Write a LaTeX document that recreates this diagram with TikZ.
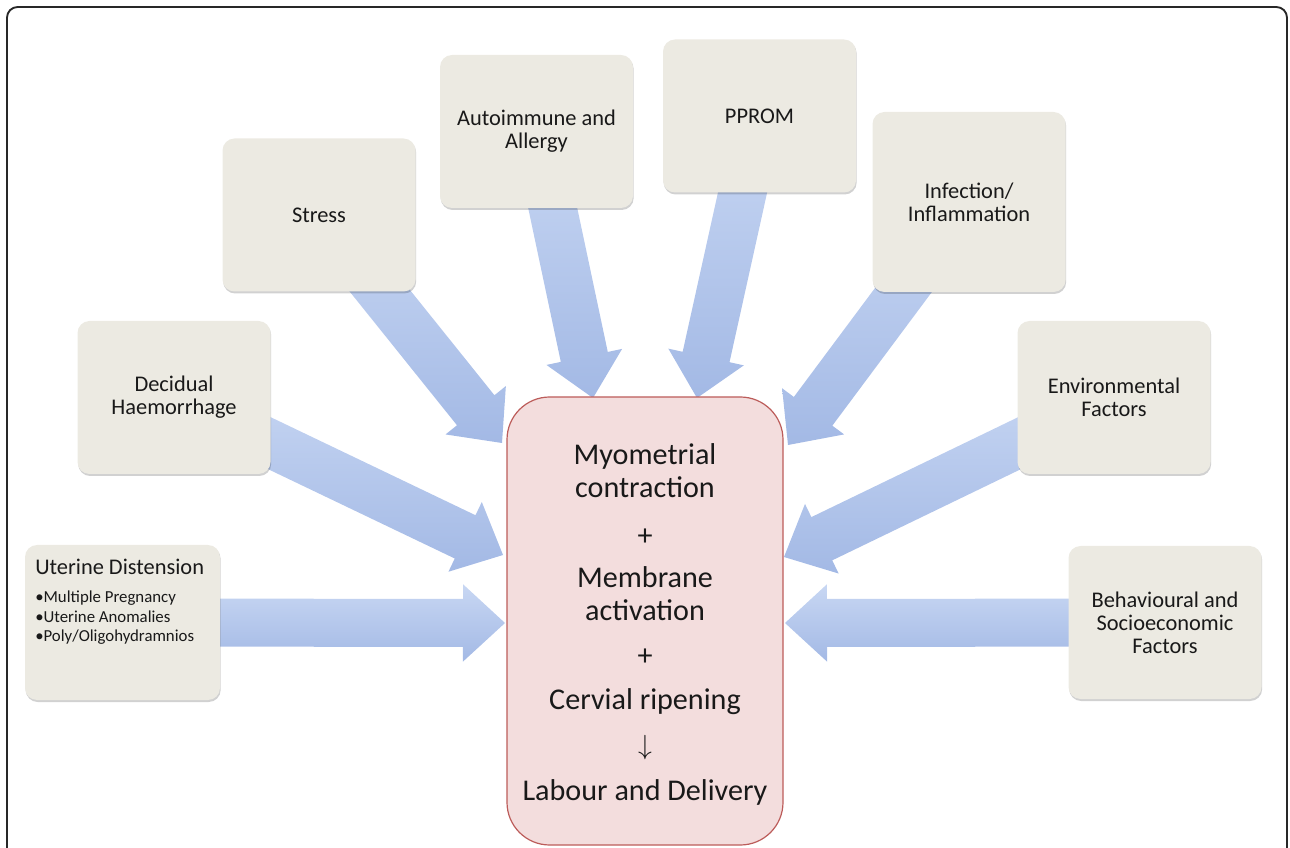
\documentclass[tikz,border=0pt]{standalone}
\usepackage{fontspec}
\setmainfont{Carlito}
\usetikzlibrary{calc,shadows}
\definecolor{boxfill}{RGB}{236,234,226}
\definecolor{cfill}{RGB}{243,221,221}
\definecolor{cdraw}{RGB}{188,92,90}
\definecolor{arrtop}{RGB}{200,215,243}
\definecolor{arrbot}{RGB}{163,185,229}
\definecolor{txt}{RGB}{25,25,25}
\definecolor{framecol}{RGB}{40,40,40}
\pgfdeclarelayer{bg}
\pgfsetlayers{bg,main}
\newcommand\blockarrow[2]{%
  \path ($(#2)!31.5pt!(#1)$) coordinate (hb);
  \shade[top color=arrtop,bottom color=arrbot]
    ($(#1)!18pt!90:(#2)$) -- ($(hb)!18pt!90:(#2)$) -- ($(hb)!29pt!90:(#2)$) -- (#2)
    -- ($(hb)!29pt!-90:(#2)$) -- ($(hb)!18pt!-90:(#2)$) -- ($(#1)!18pt!-90:(#2)$) -- cycle;}
\tikzset{
  factor/.style={fill=boxfill, rounded corners=9pt, minimum width=144.75pt,
    minimum height=114.75pt, inner sep=0pt, align=center, text=txt,
    font=\fontsize{16.8}{17.2}\selectfont,
    drop shadow={shadow xshift=0.5pt, shadow yshift=-1.5pt, fill=black, opacity=0.18}},
  central/.style={fill=cfill, draw=cdraw, line width=0.9pt, rounded corners=32pt,
    minimum width=207pt, minimum height=336pt, inner sep=0pt},
  ctext/.style={anchor=base, text=txt, font=\fontsize{22.6}{26}\selectfont, inner sep=0pt},
  utitle/.style={anchor=base west, text=txt, inner sep=0pt, font=\fontsize{16.8}{18}\selectfont},
  uitem/.style={anchor=base west, text=txt, inner sep=0pt, font=\fontsize{12.6}{14}\selectfont},
}
\begin{document}
\begin{tikzpicture}[x=0.75pt,y=-0.75pt]
\useasboundingbox (0,0) rectangle (1290,848);
\begin{scope}
\clip (0,0) rectangle (1290,848);
\draw[framecol, line width=1.4pt, rounded corners=8pt] (7,870) -- (7,7) -- (1287,7) -- (1287,870);
\end{scope}
% central node
\node[central] (C) at (645,621) {};
% factor nodes
\node[factor, minimum width=146.25pt, minimum height=116.25pt] (U) at (122.5,622.5) {};
\node[factor] (D) at (174,397.5) {Decidual\\Haemorrhage};
\node[factor] (S) at (319,215) {Stress};
\node[factor] (A) at (536.5,131.5) {Autoimmune and\\Allergy};
\node[factor] (P) at (759.5,116) {PPROM};
\node[factor, minimum height=135pt] (I) at (969,202) {Infection/\\Inflammation};
\node[factor] (E) at (1114,397.5) {Environmental\\Factors};
\node[factor] (B) at (1165,622.5) {Behavioural and\\Socioeconomic\\Factors};
% uterine distension text
\node[utitle] (ut0) at (35,575) {Uterine Distension};
\node[uitem] (ut1) at (35,603) {•Multiple Pregnancy};
\node[uitem] (ut2) at (35,623) {•Uterine Anomalies};
\node[uitem] (ut3) at (35,642) {•Poly/Oligohydramnios};
% central text
\node[ctext] (c1) at (645,465) {Myometrial};
\node[ctext] (c2) at (645,498) {contraction};
\node[ctext] (c3) at (645,546) {+};
\node[ctext] (c4) at (645,588) {Membrane};
\node[ctext] (c5) at (645,620) {activation};
\node[ctext] (c6) at (645,666) {+};
\node[ctext] (c7) at (645,710) {Cervial ripening};
\node[ctext] (c8) at (645,754) {$\downarrow$};
\node[ctext] (c9) at (645,800) {Labour and Delivery};
% arrow tips
\coordinate (tU) at (505,623);
\coordinate (tD) at (503,555);
\coordinate (tS) at (502,443);
\coordinate (tA) at (593,398);
\coordinate (tP) at (697,398);
\coordinate (tI) at (788,445);
\coordinate (tE) at (784,557);
\coordinate (tB) at (785,623);
\begin{pgfonlayer}{bg}
\blockarrow{U.center}{tU}
\blockarrow{D.center}{tD}
\blockarrow{S.center}{tS}
\blockarrow{A.center}{tA}
\blockarrow{P.center}{tP}
\blockarrow{I.center}{tI}
\blockarrow{E.center}{tE}
\blockarrow{B.center}{tB}
\end{pgfonlayer}
\end{tikzpicture}
\end{document}
